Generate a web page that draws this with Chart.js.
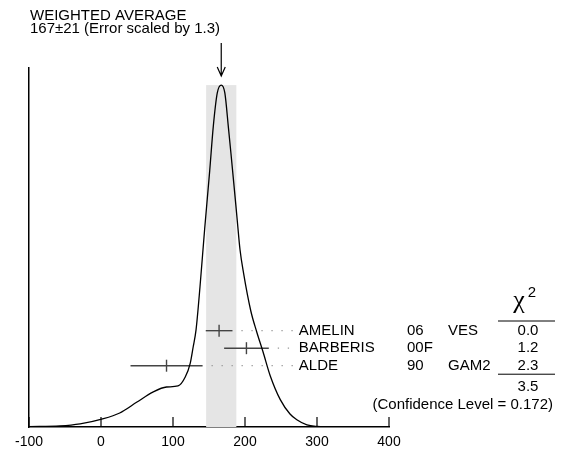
<!DOCTYPE html>
<html>
<head>
<meta charset="utf-8">
<script src="https://cdn.jsdelivr.net/npm/chart.js@4"></script>
<style>
  body { margin: 0; background: #fff; }
</style>
</head>
<body>
<canvas id="ideogram" width="563" height="451"></canvas>
<script>
// ideogram curve (height, peak = 100)
const curveX = [-100, -57, -29, 1, 26, 50, 72, 91, 107, 117, 124, 128, 132, 137.5, 144, 151, 156, 161.5, 167,
                172, 177, 180.5, 185, 189, 193, 198, 208, 216, 225, 235, 249, 262.5, 272, 286, 300, 325, 400];
const curveY = [0.1, 0.3, 0.9, 2.3, 4.1, 7.3, 10.2, 11.7, 12.0, 14.6, 18.7, 23.4, 28.4, 41, 58, 75, 88, 97.7, 100,
                97.7, 87.5, 80, 70, 61, 52, 45, 34, 28, 22, 15, 8, 3.8, 2.1, 0.6, 0.15, 0, 0];

// measurements
const names  = ['AMELIN', 'BARBERIS', 'ALDE'];
const years  = ['06', '00F', '90'];
const techs  = ['VES', '', 'GAM2'];
const values = [164, 202, 91];
const errors = [18.5, 31, 50];
const rows   = [5.5, 4.5, 3.5];
const chi2   = ['0.0', '1.2', '2.3'];
const chi2Sum = '3.5';
const confLevel = '(Confidence Level = 0.172)';

const avg = 167, avgErr = 21;
const xTicks = [-100, 0, 100, 200, 300, 400];

const FONT = '"Liberation Sans", Arial, Helvetica, sans-serif';
const labelStart = 272; // where the name column begins (x units)

const datasets = [{
  data: curveX.map((x, i) => ({ x, y: curveY[i] })),
  borderColor: '#000',
  borderWidth: 1.3,
  pointRadius: 0,
  cubicInterpolationMode: 'monotone',
  yAxisID: 'y'
}];

values.forEach((v, i) => {
  // error bar
  datasets.push({
    data: [{ x: v - errors[i], y: rows[i] }, { x: v + errors[i], y: rows[i] }],
    borderColor: '#444', borderWidth: 1.4, pointRadius: 0, yAxisID: 'yRow'
  });
  // central value tick
  datasets.push({
    data: [{ x: v, y: rows[i] }],
    showLine: false, pointStyle: 'line', rotation: 90, pointRadius: 6,
    borderColor: '#444', borderWidth: 1.4, yAxisID: 'yRow'
  });
  // dotted leader to the name
  datasets.push({
    data: [{ x: v + errors[i], y: rows[i] }, { x: labelStart, y: rows[i] }],
    borderColor: '#999', borderWidth: 1.3, borderDash: [1.3, 8.7], borderDashOffset: -9,
    pointRadius: 0, yAxisID: 'yRow'
  });
});

const extras = {
  id: 'extras',
  beforeDatasetsDraw(chart) {
    const { ctx, scales: { x, y } } = chart;
    ctx.save();
    ctx.fillStyle = '#e5e5e5';
    const x0 = x.getPixelForValue(avg - avgErr), x1 = x.getPixelForValue(avg + avgErr);
    const top = y.getPixelForValue(100);
    ctx.fillRect(x0, top, x1 - x0, y.getPixelForValue(0) - top);
    ctx.restore();
  },
  afterDraw(chart) {
    const { ctx, chartArea: ca, scales: { x, y, yRow } } = chart;
    ctx.save();
    ctx.strokeStyle = '#000';
    ctx.lineWidth = 1.2;
    // inward ticks
    xTicks.forEach(t => {
      const px = x.getPixelForValue(t);
      ctx.beginPath();
      ctx.moveTo(px, ca.bottom);
      ctx.lineTo(px, ca.bottom - 10);
      ctx.stroke();
    });
    // arrow to the average
    const ax = x.getPixelForValue(avg);
    const ay = y.getPixelForValue(100) - 9;
    ctx.beginPath();
    ctx.moveTo(ax, 43); ctx.lineTo(ax, ay);
    ctx.moveTo(ax - 4, ay - 9); ctx.lineTo(ax, ay); ctx.lineTo(ax + 4, ay - 9);
    ctx.stroke();

    ctx.fillStyle = '#000';
    ctx.font = '15px ' + FONT;
    ctx.textBaseline = 'middle';
    ctx.textAlign = 'left';
    ctx.fillText('WEIGHTED AVERAGE', 30, 16);
    ctx.fillText('167\u00B121 (Error scaled by 1.3)', 30, 29);

    const nameX = x.getPixelForValue(labelStart) + 2;
    const yearX = ca.right + 18;
    const techX = ca.right + 59;
    const chiX = ca.right + 139;
    names.forEach((n, i) => {
      const py = yRow.getPixelForValue(rows[i]);
      ctx.textAlign = 'left';
      ctx.fillText(n, nameX, py);
      ctx.fillText(years[i], yearX, py);
      ctx.fillText(techs[i], techX, py);
      ctx.textAlign = 'center';
      ctx.fillText(chi2[i], chiX, py);
    });
    const rowGap = yRow.getPixelForValue(rows[1]) - yRow.getPixelForValue(rows[0]);
    const lastRow = yRow.getPixelForValue(rows[rows.length - 1]);
    ctx.fillText(chi2Sum, chiX, lastRow + rowGap * 1.2);
    ctx.textAlign = 'right';
    ctx.fillText(confLevel, ca.right + 164, lastRow + rowGap * 2.25);

    // chi-square header
    ctx.textBaseline = 'alphabetic';
    ctx.textAlign = 'center';
    ctx.font = '26px "Liberation Serif", "DejaVu Serif", serif';
    ctx.fillText('\u03C7', chiX - 9, 308);
    ctx.font = '15px ' + FONT;
    ctx.fillText('2', chiX + 4, 296.5);
    ctx.lineWidth = 1;
    ctx.beginPath();
    ctx.moveTo(ca.right + 109, 321); ctx.lineTo(ca.right + 166, 321);
    const uy = lastRow + 8.5;
    ctx.moveTo(ca.right + 109, uy); ctx.lineTo(ca.right + 166, uy);
    ctx.stroke();
    ctx.restore();
  }
};

new Chart(document.getElementById('ideogram'), {
  type: 'line',
  data: { datasets },
  options: {
    responsive: false,
    animation: false,
    devicePixelRatio: 1,
    layout: { padding: { left: 29, right: 174, top: 68, bottom: 0 } },
    plugins: { legend: { display: false }, tooltip: { enabled: false } },
    scales: {
      x: {
        type: 'linear', min: -100, max: 400,
        afterBuildTicks: s => { s.ticks = xTicks.map(v => ({ value: v })); },
        ticks: { color: '#000', font: { size: 14, family: FONT }, padding: 7 },
        grid: { display: false, drawTicks: false },
        border: { color: '#000', width: 1.5 },
        afterFit: s => { s.height = 24; }
      },
      y: {
        min: 0, max: 105,
        ticks: { display: false },
        grid: { display: false, drawTicks: false },
        border: { color: '#000', width: 1.5 },
        afterFit: s => { s.width = 0; }
      },
      yRow: { axis: 'y', type: 'linear', min: 0, max: 20.5, display: false }
    }
  },
  plugins: [extras]
});
</script>
</body>
</html>
